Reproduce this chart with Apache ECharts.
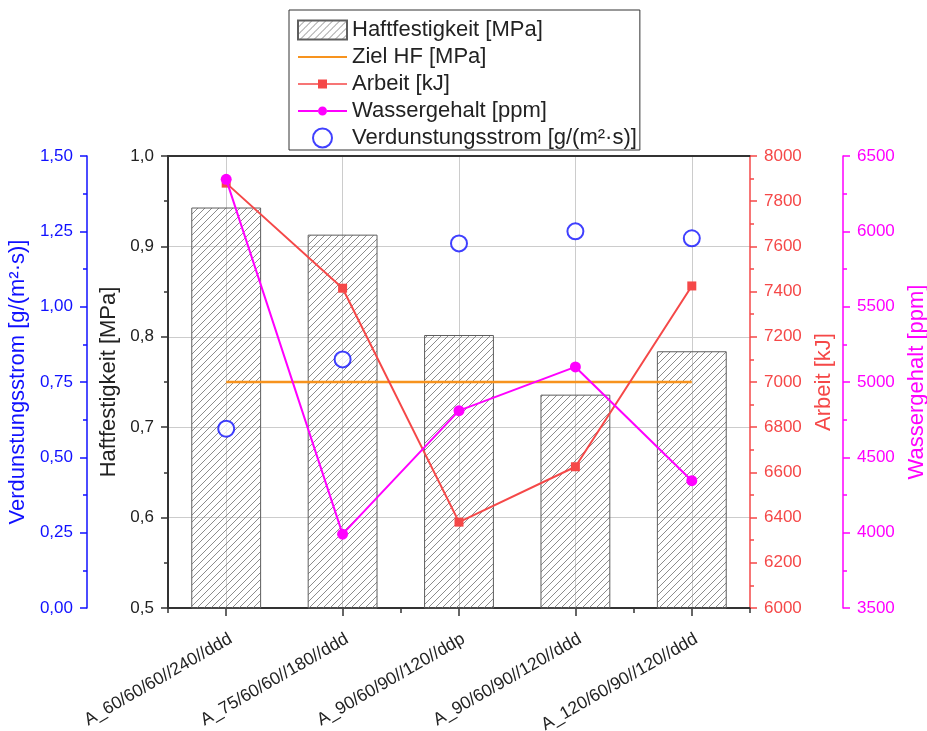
<!DOCTYPE html>
<html>
<head>
<meta charset="utf-8">
<script src="https://cdn.jsdelivr.net/npm/echarts@6/dist/echarts.min.js"></script>
<style>
  html, body { margin: 0; padding: 0; background: #ffffff; overflow: hidden; }
  #chart { width: 927px; height: 731px; }
</style>
</head>
<body>
<div id="chart"></div>
<script>
// Versuchsreihen (x-Achse)
const categories = [
  'A_60/60/60//240//ddd',
  'A_75/60/60//180//ddd',
  'A_90/60/90//120//ddp',
  'A_90/60/90//120//ddd',
  'A_120/60/90//120//ddd'
];
// Messwerte je Versuch
const haftfestigkeit = [0.943, 0.913, 0.802, 0.736, 0.784];        // MPa
const zielHF = [0.75, 0.75, 0.75, 0.75, 0.75];                      // MPa
const arbeit = [7880, 7415, 6380, 6625, 7425];                       // kJ
const wassergehalt = [6345, 3990, 4810, 5100, 4345];                 // ppm
const verdunstungsstrom = [0.595, 0.825, 1.21, 1.25, 1.227];         // g/(m²·s)

// Achsbereiche und Teilungen
const hfAxis = { min: 0.5, max: 1.0, step: 0.1 };
const vsAxis = { min: 0, max: 1.5, step: 0.25 };
const arAxis = { min: 6000, max: 8000, step: 200 };
const wgAxis = { min: 3500, max: 6500, step: 500 };

const FONT = '"Liberation Sans", Arial, sans-serif';
const C_BLACK = '#222222';
const C_AXIS = '#333333';
const C_GRID = '#cccccc';
const C_BLUE = '#1010ff';
const C_RED = '#f54848';
const C_MAGENTA = '#ff00ff';
const C_ORANGE = '#f7931e';

// Schraffur für die Balken
function hatchPattern() {
  const size = 7;
  const cv = document.createElement('canvas');
  cv.width = size; cv.height = size;
  const ctx = cv.getContext('2d');
  ctx.strokeStyle = '#6e6e6e';
  ctx.lineWidth = 0.8;
  for (const k of [-size, 0, size]) {
    ctx.beginPath();
    ctx.moveTo(k, size);
    ctx.lineTo(k + size, 0);
    ctx.stroke();
  }
  return { image: cv, repeat: 'repeat' };
}

// Legendensymbole: Linie mit Marker in einem 49x19-Feld
const ICON_BOX = 'M0,0h0.05v0.05h-0.05z M48.95,18.95h0.05v0.05h-0.05z ';
const iconLine = 'path://' + ICON_BOX + 'M0,8.5h49v2h-49z';
const iconLineRect = 'path://' + ICON_BOX + 'M0,8.75h20h1.5v1.5h-21.5z M27.5,8.75h21.5v1.5h-21.5z M20,5h9v9h-9z';
const iconLineCircle = 'path://' + ICON_BOX + 'M0,8.5h20v2h-20z M29,8.5h20v2h-20z M20,9.5a4.5,4.5 0 1,1 9,0a4.5,4.5 0 1,1 -9,0z';

const comma = (digits) => (v) => v.toFixed(digits).replace('.', ',');

function valueAxis(cfg) {
  return {
    type: 'value',
    position: cfg.position,
    offset: cfg.offset,
    min: cfg.range.min,
    max: cfg.range.max,
    interval: cfg.range.step,
    name: cfg.name,
    nameLocation: 'middle',
    nameRotate: 90,
    nameGap: cfg.nameGap,
    nameTextStyle: { fontSize: 22, color: cfg.color, fontFamily: FONT },
    axisLine: { show: true, onZero: false, lineStyle: { color: cfg.lineColor || cfg.color, width: cfg.lineWidth || 1.5 } },
    axisTick: { show: true, inside: false, length: 7, lineStyle: { color: cfg.lineColor || cfg.color, width: 1.5 } },
    minorTick: { show: true, splitNumber: 2, length: 4, lineStyle: { color: cfg.lineColor || cfg.color, width: 1.5 } },
    axisLabel: {
      fontSize: 17, color: cfg.color, fontFamily: FONT, margin: 14,
      formatter: cfg.formatter
    },
    splitLine: { show: !!cfg.grid, lineStyle: { color: C_GRID, width: 1 } },
    minorSplitLine: { show: false }
  };
}

const chart = echarts.init(document.getElementById('chart'), null, { renderer: 'canvas' });

chart.setOption({
  animation: false,
  backgroundColor: '#ffffff',
  textStyle: { fontFamily: FONT },
  grid: { left: 168, right: 177, top: 156, bottom: 123, containLabel: false, outerBoundsMode: 'none' },
  legend: {
    orient: 'vertical',
    left: 289,
    top: 10,
    itemWidth: 49,
    itemHeight: 19,
    itemGap: 5,
    padding: [9, 3, 1, 8],
    borderColor: C_AXIS,
    borderWidth: 1,
    backgroundColor: '#ffffff',
    textStyle: { fontSize: 22, color: C_BLACK, fontFamily: FONT },
    data: [
      { name: 'Haftfestigkeit [MPa]', icon: 'rect' },
      { name: 'Ziel HF [MPa]', icon: iconLine, itemStyle: { borderWidth: 0 } },
      { name: 'Arbeit [kJ]', icon: iconLineRect, itemStyle: { borderWidth: 0 } },
      { name: 'Wassergehalt [ppm]', icon: iconLineCircle, itemStyle: { borderWidth: 0 } },
      { name: 'Verdunstungsstrom [g/(m²·s)]', icon: 'circle' }
    ]
  },
  xAxis: [
    {
      type: 'category',
      data: categories,
      position: 'bottom',
      boundaryGap: true,
      axisLine: { show: true, lineStyle: { color: C_AXIS, width: 2 } },
      axisTick: { show: true, alignWithLabel: true, length: 8, lineStyle: { color: C_AXIS, width: 1.5 } },
      axisLabel: {
        rotate: 30, interval: 0, fontSize: 17.5, color: C_BLACK, fontFamily: FONT,
        margin: 22, verticalAlign: 'top'
      },
      splitLine: { show: true, alignWithLabel: true, lineStyle: { color: C_GRID, width: 1 } }
    },
    {
      // Zwischenstriche an den Kategoriegrenzen
      type: 'category',
      data: categories,
      position: 'bottom',
      boundaryGap: true,
      axisLine: { show: false },
      axisTick: { show: true, alignWithLabel: false, length: 5, lineStyle: { color: C_AXIS, width: 1.5 } },
      axisLabel: { show: false },
      splitLine: { show: false }
    },
    {
      // oberer Rahmen
      type: 'category',
      data: categories,
      position: 'top',
      axisLine: { show: true, lineStyle: { color: C_AXIS, width: 2 } },
      axisTick: { show: false },
      axisLabel: { show: false },
      splitLine: { show: false }
    }
  ],
  yAxis: [
    valueAxis({ position: 'left', offset: 0, range: hfAxis, name: 'Haftfestigkeit [MPa]', nameGap: 39,
                color: C_BLACK, lineColor: C_AXIS, lineWidth: 2, formatter: comma(1), grid: true }),
    valueAxis({ position: 'left', offset: 81, range: vsAxis, name: 'Verdunstungsstrom [g/(m²·s)]', nameGap: 50,
                color: C_BLUE, formatter: comma(2) }),
    valueAxis({ position: 'right', offset: 0, range: arAxis, name: 'Arbeit [kJ]', nameGap: 62,
                color: C_RED, formatter: (v) => String(v) }),
    valueAxis({ position: 'right', offset: 93, range: wgAxis, name: 'Wassergehalt [ppm]', nameGap: 62,
                color: C_MAGENTA, formatter: (v) => String(v) })
  ],
  series: [
    {
      name: 'Haftfestigkeit [MPa]',
      type: 'bar',
      xAxisIndex: 0, yAxisIndex: 0,
      data: haftfestigkeit,
      barWidth: '60%',
      itemStyle: { color: hatchPattern(), borderColor: '#5e5e5e', borderWidth: 1 },
      z: 2
    },
    {
      name: 'Ziel HF [MPa]',
      type: 'line',
      xAxisIndex: 0, yAxisIndex: 0,
      data: zielHF,
      symbol: 'none',
      color: C_ORANGE,
      lineStyle: { color: C_ORANGE, width: 2.5 },
      z: 3
    },
    {
      name: 'Arbeit [kJ]',
      type: 'line',
      xAxisIndex: 0, yAxisIndex: 2,
      data: arbeit,
      symbol: 'rect',
      symbolSize: 9,
      color: C_RED,
      itemStyle: { color: C_RED },
      lineStyle: { color: C_RED, width: 2 },
      z: 4
    },
    {
      name: 'Wassergehalt [ppm]',
      type: 'line',
      xAxisIndex: 0, yAxisIndex: 3,
      data: wassergehalt,
      symbol: 'circle',
      symbolSize: 11,
      color: C_MAGENTA,
      itemStyle: { color: C_MAGENTA },
      lineStyle: { color: C_MAGENTA, width: 2 },
      z: 5
    },
    {
      name: 'Verdunstungsstrom [g/(m²·s)]',
      type: 'scatter',
      xAxisIndex: 0, yAxisIndex: 1,
      data: verdunstungsstrom,
      symbol: 'circle',
      symbolSize: 16,
      itemStyle: { color: '#ffffff', borderColor: C_BLUE, borderWidth: 2 },
      z: 6
    }
  ]
});
</script>
</body>
</html>
